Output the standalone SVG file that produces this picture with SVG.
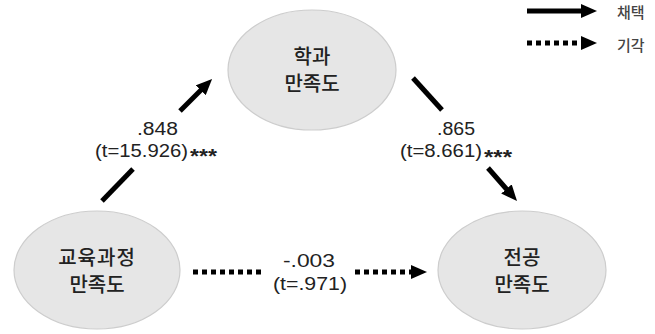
<svg xmlns="http://www.w3.org/2000/svg" width="655" height="334" viewBox="0 0 655 334">
<style>
.node{fill:#e6e6e6;stroke:#cdcdcd;stroke-width:1.2}
.nt{font-family:"Noto Sans CJK KR","Noto Sans",sans-serif;font-size:20px;font-weight:500;fill:#222;text-anchor:middle}
.num{font-family:"Liberation Sans",Arial,sans-serif;font-size:18px;fill:#222}
.star{font-family:"Liberation Sans",Arial,sans-serif;font-size:20px;font-weight:bold;fill:#222}
.solid{stroke:#000;stroke-width:5;fill:none}
.dot{stroke:#000;stroke-width:5;fill:none;stroke-dasharray:5 4}
.leg{font-family:"Noto Sans CJK KR","Noto Sans",sans-serif;font-size:15px;font-weight:500;fill:#444}
</style>
<defs>
<marker id="ah" viewBox="0 0 16 14" refX="6" refY="7" markerWidth="16" markerHeight="14" markerUnits="userSpaceOnUse" orient="auto">
<path d="M0,0 L16,7 L0,14 z" fill="#000"/>
</marker>
</defs>
<rect width="655" height="334" fill="#fff"/>
<g id="legend">
<line class="solid" x1="527" y1="11" x2="587" y2="11" marker-end="url(#ah)"/>
<text class="leg" x="617" y="18">채택</text>
<line class="dot" x1="527" y1="43" x2="587" y2="43" marker-end="url(#ah)"/>
<text class="leg" x="617" y="51">기각</text>
</g>
<g id="node-dept">
<ellipse class="node" cx="312" cy="70" rx="84" ry="60"/>
<text class="nt" x="312" y="64">학과</text>
<text class="nt" x="312" y="91">만족도</text>
</g>
<g id="node-curriculum">
<ellipse class="node" cx="97" cy="270" rx="83" ry="59"/>
<text class="nt" x="97" y="265" letter-spacing="1">교육과정</text>
<text class="nt" x="97" y="292">만족도</text>
</g>
<g id="node-major">
<ellipse class="node" cx="522" cy="270" rx="84" ry="59"/>
<text class="nt" x="522" y="265">전공</text>
<text class="nt" x="522" y="292">만족도</text>
</g>
<g id="connectors">
<line class="solid" x1="102" y1="201" x2="133" y2="169"/>
<line class="solid" x1="180" y1="111" x2="205" y2="86" marker-end="url(#ah)"/>
<line class="solid" x1="413" y1="78" x2="442" y2="110"/>
<line class="solid" x1="488" y1="168" x2="510.4" y2="193.5" marker-end="url(#ah)"/>
<line class="dot" x1="193" y1="272" x2="263" y2="272"/>
<line class="dot" x1="355" y1="272" x2="417" y2="272" marker-end="url(#ah)"/>
</g>
<g id="labels">
<text class="num" x="137" y="135" textLength="41" lengthAdjust="spacingAndGlyphs">.848</text>
<text class="num" x="95" y="157" textLength="93" lengthAdjust="spacingAndGlyphs">(t=15.926)</text>
<text class="star" x="190" y="163" textLength="27" lengthAdjust="spacingAndGlyphs">***</text>
<text class="num" x="437" y="135" textLength="38" lengthAdjust="spacingAndGlyphs">.865</text>
<text class="num" x="400" y="157" textLength="82" lengthAdjust="spacingAndGlyphs">(t=8.661)</text>
<text class="star" x="484" y="164" textLength="28" lengthAdjust="spacingAndGlyphs">***</text>
<text class="num" x="283" y="267" textLength="52" lengthAdjust="spacingAndGlyphs">-.003</text>
<text class="num" x="273" y="290" textLength="74" lengthAdjust="spacingAndGlyphs">(t=.971)</text>
</g>
</svg>
